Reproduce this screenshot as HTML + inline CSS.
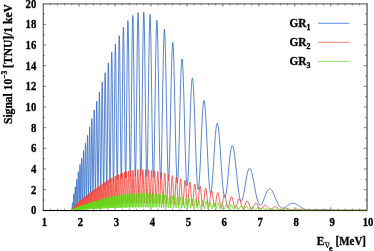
<!DOCTYPE html>
<html><head><meta charset="utf-8"><title>plot</title>
<style>html,body{margin:0;padding:0;background:#fff;}body{width:374px;height:251px;overflow:hidden;}svg{display:block;}text{font-family:"Liberation Serif",serif;font-weight:bold;fill:#000;stroke:#000;stroke-width:0.3px;}</style>
</head><body>
<svg width="374" height="251" viewBox="0 0 374 251">
<rect width="374" height="251" fill="#fff"/>
<path d="M42.800000000000004 210.55H367.0" stroke="#000" stroke-width="1.0" fill="none"/>
<path d="M50.29 210.30v-1.60M50.29 3.70v1.60M57.48 210.30v-1.60M57.48 3.70v1.60M64.67 210.30v-1.60M64.67 3.70v1.60M71.86 210.30v-1.60M71.86 3.70v1.60M79.06 210.30v-3.00M79.06 3.70v3.00M86.25 210.30v-1.60M86.25 3.70v1.60M93.44 210.30v-1.60M93.44 3.70v1.60M100.63 210.30v-1.60M100.63 3.70v1.60M107.82 210.30v-1.60M107.82 3.70v1.60M115.01 210.30v-3.00M115.01 3.70v3.00M122.20 210.30v-1.60M122.20 3.70v1.60M129.39 210.30v-1.60M129.39 3.70v1.60M136.58 210.30v-1.60M136.58 3.70v1.60M143.78 210.30v-1.60M143.78 3.70v1.60M150.97 210.30v-3.00M150.97 3.70v3.00M158.16 210.30v-1.60M158.16 3.70v1.60M165.35 210.30v-1.60M165.35 3.70v1.60M172.54 210.30v-1.60M172.54 3.70v1.60M179.73 210.30v-1.60M179.73 3.70v1.60M186.92 210.30v-3.00M186.92 3.70v3.00M194.11 210.30v-1.60M194.11 3.70v1.60M201.30 210.30v-1.60M201.30 3.70v1.60M208.50 210.30v-1.60M208.50 3.70v1.60M215.69 210.30v-1.60M215.69 3.70v1.60M222.88 210.30v-3.00M222.88 3.70v3.00M230.07 210.30v-1.60M230.07 3.70v1.60M237.26 210.30v-1.60M237.26 3.70v1.60M244.45 210.30v-1.60M244.45 3.70v1.60M251.64 210.30v-1.60M251.64 3.70v1.60M258.83 210.30v-3.00M258.83 3.70v3.00M266.02 210.30v-1.60M266.02 3.70v1.60M273.22 210.30v-1.60M273.22 3.70v1.60M280.41 210.30v-1.60M280.41 3.70v1.60M287.60 210.30v-1.60M287.60 3.70v1.60M294.79 210.30v-3.00M294.79 3.70v3.00M301.98 210.30v-1.60M301.98 3.70v1.60M309.17 210.30v-1.60M309.17 3.70v1.60M316.36 210.30v-1.60M316.36 3.70v1.60M323.55 210.30v-1.60M323.55 3.70v1.60M330.74 210.30v-3.00M330.74 3.70v3.00M337.94 210.30v-1.60M337.94 3.70v1.60M345.13 210.30v-1.60M345.13 3.70v1.60M352.32 210.30v-1.60M352.32 3.70v1.60M359.51 210.30v-1.60M359.51 3.70v1.60M43.10 199.97h1.60M366.70 199.97h-1.60M43.10 189.64h3.00M366.70 189.64h-3.00M43.10 179.31h1.60M366.70 179.31h-1.60M43.10 168.98h3.00M366.70 168.98h-3.00M43.10 158.65h1.60M366.70 158.65h-1.60M43.10 148.32h3.00M366.70 148.32h-3.00M43.10 137.99h1.60M366.70 137.99h-1.60M43.10 127.66h3.00M366.70 127.66h-3.00M43.10 117.33h1.60M366.70 117.33h-1.60M43.10 107.00h3.00M366.70 107.00h-3.00M43.10 96.67h1.60M366.70 96.67h-1.60M43.10 86.34h3.00M366.70 86.34h-3.00M43.10 76.01h1.60M366.70 76.01h-1.60M43.10 65.68h3.00M366.70 65.68h-3.00M43.10 55.35h1.60M366.70 55.35h-1.60M43.10 45.02h3.00M366.70 45.02h-3.00M43.10 34.69h1.60M366.70 34.69h-1.60M43.10 24.36h3.00M366.70 24.36h-3.00M43.10 14.03h1.60M366.70 14.03h-1.60" stroke="#000" stroke-width="0.5" fill="none"/>
<path d="M72.08 210.30L72.08 208.28L72.17 206.64L72.25 205.10L72.34 203.83L72.42 203.02L72.51 202.78L72.59 203.15L72.68 204.04L72.77 205.27L72.85 206.56L72.94 207.63L73.03 208.20L73.11 208.06L73.20 207.11L73.29 205.38L73.38 203.07L73.46 200.44L73.55 197.87L73.64 195.73L73.73 194.35L73.82 193.96L73.91 194.63L74.00 196.27L74.09 198.63L74.18 201.31L74.27 203.87L74.36 205.84L74.45 206.84L74.54 206.63L74.63 205.13L74.73 202.48L74.82 199.03L74.91 195.23L75.00 191.63L75.09 188.78L75.19 187.09L75.28 186.85L75.37 188.10L75.47 190.66L75.56 194.15L75.66 198.00L75.75 201.58L75.85 204.29L75.94 205.61L76.04 205.24L76.13 203.15L76.23 199.55L76.32 194.91L76.42 189.88L76.52 185.17L76.61 181.51L76.71 179.45L76.81 179.32L76.90 181.15L77.00 184.69L77.10 189.39L77.20 194.49L77.30 199.17L77.40 202.64L77.50 204.27L77.60 203.71L77.70 200.96L77.80 196.32L77.90 190.45L78.00 184.18L78.10 178.43L78.20 174.07L78.30 171.77L78.40 171.90L78.50 174.45L78.61 179.04L78.71 184.97L78.81 191.29L78.92 197.00L79.02 201.16L79.12 203.03L79.23 202.25L79.33 198.82L79.44 193.19L79.54 186.13L79.65 178.68L79.75 171.93L79.86 166.92L79.97 164.45L80.07 164.92L80.18 168.24L80.29 173.92L80.40 181.07L80.50 188.56L80.61 195.20L80.72 199.94L80.83 201.99L80.94 200.97L81.05 196.95L81.16 190.47L81.27 182.43L81.38 174.02L81.49 166.49L81.60 160.97L81.71 158.33L81.82 158.97L81.94 162.82L82.05 169.30L82.16 177.40L82.28 185.86L82.39 193.34L82.50 198.60L82.62 200.77L82.73 199.39L82.85 194.58L82.96 186.98L83.08 177.68L83.19 168.03L83.31 159.50L83.43 153.37L83.54 150.59L83.66 151.60L83.78 156.26L83.90 163.87L84.02 173.25L84.13 182.93L84.25 191.38L84.37 197.23L84.49 199.51L84.61 197.76L84.73 192.16L84.86 183.48L84.98 172.97L85.10 162.19L85.22 152.74L85.34 146.08L85.47 143.23L85.59 144.63L85.71 150.10L85.84 158.79L85.96 169.38L86.09 180.20L86.21 189.55L86.34 195.92L86.47 198.25L86.59 196.08L86.72 189.63L86.85 179.81L86.98 168.03L87.10 156.03L87.23 145.63L87.36 138.40L87.49 135.45L87.62 137.26L87.75 143.57L87.88 153.41L88.01 165.27L88.14 177.30L88.28 187.60L88.41 194.51L88.54 196.86L88.68 194.18L88.81 186.77L88.94 175.66L89.08 162.47L89.21 149.16L89.35 137.74L89.48 129.94L89.62 126.96L89.76 129.29L89.90 136.58L90.03 147.72L90.17 160.99L90.31 174.33L90.45 185.62L90.59 193.06L90.73 195.40L90.87 192.17L91.01 183.75L91.15 171.33L91.29 156.73L91.44 142.13L91.58 129.73L91.72 121.42L91.87 118.48L92.01 121.39L92.16 129.71L92.30 142.17L92.45 156.86L92.60 171.48L92.74 183.73L92.89 191.65L93.04 193.92L93.19 190.08L93.34 180.61L93.48 166.84L93.63 150.82L93.79 134.93L93.94 121.57L94.09 112.79L94.24 109.94L94.39 113.47L94.55 122.86L94.70 136.67L94.85 152.79L95.01 168.69L95.16 181.88L95.32 190.24L95.48 192.39L95.63 187.87L95.79 177.27L95.95 162.10L96.11 144.60L96.27 127.39L96.43 113.08L96.59 103.85L96.75 101.12L96.91 105.34L97.07 115.88L97.24 131.12L97.40 148.71L97.56 165.92L97.73 180.05L97.89 188.82L98.06 190.80L98.22 185.56L98.39 173.78L98.56 157.17L98.73 138.18L98.90 119.66L99.07 104.42L99.24 94.78L99.41 92.22L99.58 97.16L99.75 108.86L99.92 125.52L100.10 144.59L100.27 163.11L100.44 178.15L100.62 187.30L100.80 189.04L100.97 182.94L101.15 169.81L101.33 151.53L101.51 130.80L101.69 110.74L101.87 94.38L102.05 84.24L102.23 81.90L102.41 87.72L102.59 100.83L102.78 119.21L102.96 140.04L103.14 160.06L103.33 176.14L103.52 185.71L103.70 187.19L103.89 180.23L104.08 165.77L104.27 145.93L104.46 123.66L104.65 102.32L104.84 85.14L105.03 74.75L105.23 72.74L105.42 79.46L105.61 93.88L105.81 113.81L106.00 136.17L106.20 157.49L106.40 174.42L106.60 184.26L106.80 185.38L107.00 177.47L107.20 161.62L107.40 140.14L107.60 116.22L107.80 93.47L108.01 75.35L108.21 64.62L108.42 62.95L108.63 70.60L108.83 86.41L109.04 107.97L109.25 131.96L109.46 154.65L109.67 172.48L109.88 182.60L110.09 183.30L110.31 174.31L110.52 156.85L110.74 133.49L110.95 107.71L111.17 83.41L111.39 64.31L111.61 53.34L111.83 52.18L112.05 61.03L112.27 78.53L112.49 102.02L112.72 127.85L112.94 152.03L113.17 170.78L113.39 181.14L113.62 181.41L113.85 171.44L114.08 152.66L114.31 127.86L114.54 100.77L114.77 75.48L115.00 55.85L115.24 44.88L115.47 44.26L115.71 54.11L115.95 72.93L116.18 97.84L116.42 125.01L116.66 150.22L116.91 169.54L117.15 179.92L117.39 179.64L117.64 168.63L117.88 148.47L118.13 122.14L118.38 93.60L118.63 67.18L118.88 46.90L119.13 35.88L119.38 35.81L119.64 46.72L119.89 66.96L120.15 93.41L120.40 122.00L120.66 148.32L120.92 168.24L121.18 178.61L121.44 177.74L121.71 165.64L121.97 144.05L122.24 116.19L122.50 86.26L122.77 58.81L123.04 38.03L123.31 27.13L123.58 27.77L123.86 39.88L124.13 61.60L124.41 89.60L124.68 119.56L124.96 146.87L125.24 167.26L125.52 177.55L125.80 176.07L126.09 162.97L126.37 140.19L126.66 111.14L126.95 80.24L127.24 52.19L127.53 31.27L127.82 20.70L128.11 22.09L128.41 35.26L128.70 58.18L129.00 87.35L129.30 118.27L129.60 146.19L129.90 166.77L130.21 176.79L130.51 174.66L130.82 160.63L131.13 136.79L131.43 106.75L131.75 75.06L132.06 46.58L132.37 25.65L132.69 15.49L133.01 17.67L133.33 31.85L133.65 55.87L133.97 86.05L134.29 117.73L134.62 146.05L134.95 166.64L135.27 176.30L135.61 173.52L135.94 158.70L136.27 134.06L136.61 103.37L136.95 71.32L137.29 42.81L137.63 22.21L137.97 12.67L138.31 15.66L138.66 30.73L139.01 55.57L139.36 86.37L139.71 118.40L140.07 146.75L140.42 167.06L140.78 176.21L141.14 172.80L141.50 157.34L141.86 132.21L142.23 101.25L142.60 69.22L142.97 41.03L143.34 21.00L143.71 12.21L144.09 16.00L144.47 31.78L144.85 57.14L145.23 88.19L145.61 120.17L146.00 148.19L146.39 167.97L146.78 176.51L147.17 172.51L147.57 156.62L147.96 131.32L148.36 100.52L148.77 68.95L149.17 41.48L149.58 22.33L149.98 14.44L150.40 19.01L150.81 35.32L151.23 60.88L151.64 91.76L152.06 123.24L152.49 150.54L152.91 169.50L153.34 177.30L153.77 172.81L154.21 156.81L154.64 131.81L155.08 101.74L155.52 71.24L155.96 45.02L156.41 27.12L156.86 20.28L157.31 25.53L157.77 42.05L158.22 67.29L158.68 97.40L159.15 127.79L159.61 153.86L160.08 171.68L160.55 178.64L161.03 173.77L161.50 157.94L161.98 133.69L162.47 104.84L162.95 75.90L163.44 51.33L163.94 34.93L164.43 29.21L164.93 35.03L165.43 51.47L165.94 75.99L166.44 104.84L166.96 133.65L167.47 158.08L167.99 174.50L168.51 180.55L169.04 175.47L169.56 160.23L170.10 137.33L170.63 110.41L171.17 83.71L171.71 61.39L172.26 46.88L172.81 42.40L173.36 48.61L173.92 64.52L174.48 87.68L175.04 114.56L175.61 141.10L176.18 163.33L176.76 178.02L177.34 183.09L177.92 178.00L178.51 163.75L179.10 142.71L179.70 118.30L180.00 106.01L180.30 94.37L180.60 83.75L180.91 74.66L181.21 67.37L181.51 62.22L181.82 59.37L182.13 58.94L182.44 60.95L182.74 65.29L183.06 71.82L183.37 80.25L183.68 90.30L183.99 101.51L184.31 113.54L184.62 125.84L184.94 138.04L185.26 149.60L185.58 160.15L185.90 169.26L186.22 176.65L186.54 182.01L186.87 185.20L187.19 186.12L187.52 184.76L187.85 181.21L188.17 175.63L188.50 168.29L188.84 159.46L189.17 149.58L189.50 138.96L189.84 128.13L190.17 117.43L190.51 107.38L190.85 98.29L191.19 90.59L191.53 84.52L191.87 80.35L192.21 78.23L192.56 78.24L192.90 80.36L193.25 84.51L193.60 90.54L193.95 98.17L194.30 107.17L194.65 117.11L195.01 127.69L195.36 138.44L195.72 149.04L196.08 159.00L196.44 168.05L196.80 175.79L197.16 182.01L197.52 186.46L197.89 189.03L198.25 189.65L198.62 188.33L198.99 185.17L199.36 180.31L199.73 174.01L200.11 166.50L200.48 158.15L200.86 149.26L201.24 140.24L201.62 131.41L202.00 123.18L202.38 115.82L202.76 109.67L203.15 104.92L203.53 101.79L203.92 100.38L204.31 100.73L204.70 102.85L205.10 106.61L205.49 111.90L205.89 118.47L206.28 126.12L206.68 134.49L207.08 143.33L207.49 152.24L207.89 160.97L208.30 169.13L208.70 176.49L209.11 182.73L209.52 187.70L209.93 191.20L210.35 193.16L210.76 193.52L211.18 192.32L211.60 189.65L212.02 185.63L212.44 180.48L212.87 174.40L213.29 167.69L213.72 160.59L214.15 153.46L214.58 146.51L215.02 140.11L215.45 134.43L215.89 129.77L216.33 126.25L216.77 124.05L217.21 123.22L217.65 123.79L218.10 125.74L218.55 128.97L219.00 133.38L219.45 138.76L219.91 144.95L220.36 151.65L220.82 158.68L221.28 165.71L221.74 172.55L222.20 178.90L222.67 184.59L223.14 189.37L223.61 193.15L224.08 195.76L224.55 197.17L225.03 197.35L225.51 196.34L225.99 194.21L226.47 191.07L226.95 187.10L227.44 182.46L227.93 177.38L228.42 172.05L228.91 166.75L229.41 161.64L229.90 156.99L230.40 152.93L230.91 149.68L231.41 147.31L231.92 145.95L232.43 145.64L232.94 146.37L233.45 148.12L233.96 150.79L234.48 154.31L235.00 158.49L235.53 163.22L236.05 168.28L236.58 173.52L237.11 178.71L237.64 183.71L238.18 188.31L238.72 192.38L239.25 195.77L239.80 198.42L240.34 200.22L240.89 201.16L241.44 201.24L241.99 200.49L242.55 198.99L243.11 196.82L243.67 194.11L244.23 190.98L244.80 187.61L245.37 184.11L245.94 180.69L246.51 177.44L247.09 174.55L247.67 172.09L248.25 170.20L248.84 168.93L249.42 168.34L250.02 168.43L250.61 169.20L251.21 170.62L251.81 172.62L252.21 174.24L252.61 176.04L253.01 178.01L253.42 180.11L253.83 182.31L254.24 184.55L254.65 186.83L255.06 189.08L255.47 191.28L255.88 193.42L256.30 195.43L256.71 197.29L257.13 199.01L257.55 200.53L257.97 201.85L258.39 202.95L258.82 203.83L259.24 204.48L259.67 204.90L260.10 205.09L260.53 205.06L260.96 204.82L261.39 204.39L261.82 203.79L262.26 203.02L262.70 202.12L263.13 201.12L263.57 200.02L264.01 198.87L264.46 197.68L264.90 196.49L265.35 195.31L265.79 194.18L266.24 193.11L266.69 192.12L267.14 191.25L267.60 190.49L268.05 189.86L268.51 189.38L268.97 189.05L269.43 188.87L269.89 188.86L270.35 189.00L270.82 189.29L271.28 189.73L271.75 190.32L272.22 191.03L272.69 191.86L273.17 192.79L273.64 193.80L274.12 194.87L274.60 196.00L275.08 197.15L275.56 198.31L276.04 199.47L276.53 200.60L277.01 201.68L277.50 202.72L277.99 203.69L278.48 204.57L278.98 205.38L279.48 206.08L279.97 206.68L280.47 207.18L280.97 207.57L281.48 207.85L281.98 208.04L282.49 208.13L283.00 208.12L283.51 208.04L284.02 207.87L284.53 207.65L285.05 207.36L285.57 207.03L286.09 206.67L286.61 206.28L287.14 205.89L287.66 205.49L288.19 205.10L288.72 204.73L289.25 204.39L289.79 204.08L290.32 203.81L290.86 203.59L291.40 203.42L291.94 203.30L292.49 203.23L293.03 203.22L293.58 203.26L294.13 203.36L294.69 203.51L295.24 203.71L295.80 203.95L296.36 204.24L296.92 204.56L297.48 204.91L298.05 205.28L298.62 205.66L299.18 206.05L299.76 206.44L300.33 206.83L300.91 207.21L301.49 207.57L302.07 207.91L302.65 208.23L303.24 208.53L303.83 208.79L304.42 209.03L305.01 209.24L305.61 209.41L306.20 209.56L306.66 209.65L307.11 209.73L307.56 209.79L308.01 209.84L308.47 209.87L308.93 209.90L309.38 209.91L309.84 209.92L310.30 209.91L310.77 209.90L311.23 209.89L311.69 209.87L312.16 209.84L312.63 209.82L313.10 209.79L313.57 209.76L314.04 209.73L314.52 209.70L314.99 209.67L315.47 209.65L315.95 209.62L316.43 209.60L316.91 209.58L317.39 209.56L317.88 209.55L318.36 209.53L318.85 209.52L319.33 209.52L319.83 209.51L320.32 209.51L320.81 209.51L321.31 209.51L321.80 209.52L322.30 209.53L322.80 209.55L323.30 209.56L323.81 209.58L324.31 209.60L324.82 209.63L325.32 209.65L325.83 209.68L326.35 209.71L326.86 209.74L327.37 209.77L327.89 209.80L328.41 209.83L328.93 209.86L329.44 209.90L329.97 209.93L330.49 209.96L331.02 209.98L331.54 210.01L332.08 210.04L332.61 210.06L333.14 210.09L333.67 210.11L334.21 210.13L334.75 210.15L335.29 210.17L335.83 210.18L336.38 210.20L336.92 210.21L337.47 210.22L338.01 210.23L338.57 210.24L339.12 210.25L339.68 210.25L340.23 210.26L340.79 210.26L341.35 210.26L341.91 210.26L342.47 210.26L343.04 210.26L343.61 210.26L344.18 210.26L344.75 210.26L345.32 210.25L345.90 210.25L346.48 210.24L347.05 210.24L347.64 210.24L348.22 210.23L348.81 210.23L349.39 210.22L349.98 210.22L350.58 210.22L351.17 210.21L351.76 210.21L352.24 210.21L352.72 210.21L353.20 210.20L353.68 210.20L354.16 210.20L354.65 210.20L355.14 210.20L355.63 210.20L356.11 210.20L356.60 210.20L357.10 210.20L357.59 210.20L358.08 210.20L358.58 210.20L359.07 210.20L359.57 210.21L360.07 210.21L360.58 210.21L361.08 210.21L361.58 210.21L362.09 210.22L362.60 210.22L363.10 210.22L363.61 210.23L364.12 210.23L364.64 210.23L365.15 210.24L365.67 210.24L366.18 210.24L366.70 210.24" fill="none" stroke="#2c68c3" stroke-width="0.8" stroke-linejoin="round"/>
<path d="M72.08 210.30L72.08 209.95L72.12 209.74L72.16 209.53L72.20 209.33L72.23 209.19L72.27 209.13L72.31 209.15L72.35 209.25L72.39 209.42L72.43 209.62L72.47 209.81L72.50 209.95L72.54 210.00L72.58 209.95L72.62 209.78L72.66 209.51L72.70 209.18L72.74 208.81L72.78 208.48L72.82 208.22L72.86 208.08L72.90 208.08L72.94 208.22L72.97 208.49L73.01 208.83L73.05 209.20L73.09 209.53L73.13 209.76L73.17 209.85L73.21 209.77L73.25 209.53L73.29 209.16L73.33 208.69L73.37 208.20L73.41 207.76L73.45 207.43L73.49 207.27L73.53 207.30L73.57 207.52L73.61 207.90L73.65 208.37L73.69 208.86L73.73 209.30L73.77 209.60L73.81 209.72L73.85 209.63L73.89 209.32L73.93 208.85L73.98 208.26L74.02 207.66L74.06 207.12L74.10 206.74L74.14 206.56L74.18 206.61L74.22 206.90L74.26 207.37L74.30 207.96L74.34 208.56L74.38 209.10L74.43 209.46L74.47 209.60L74.51 209.49L74.55 209.12L74.59 208.55L74.63 207.87L74.67 207.15L74.71 206.53L74.76 206.08L74.80 205.88L74.84 205.96L74.88 206.31L74.92 206.88L74.96 207.57L75.01 208.28L75.05 208.90L75.09 209.33L75.13 209.49L75.17 209.35L75.22 208.93L75.26 208.27L75.30 207.47L75.34 206.66L75.39 205.94L75.43 205.44L75.47 205.22L75.51 205.32L75.56 205.73L75.60 206.38L75.64 207.18L75.68 208.00L75.73 208.71L75.77 209.20L75.81 209.38L75.86 209.21L75.90 208.72L75.94 207.97L75.98 207.06L76.03 206.13L76.07 205.32L76.11 204.75L76.16 204.51L76.20 204.63L76.24 205.11L76.29 205.86L76.33 206.77L76.37 207.70L76.42 208.51L76.46 209.05L76.51 209.25L76.55 209.06L76.59 208.50L76.64 207.65L76.68 206.62L76.73 205.57L76.77 204.67L76.81 204.03L76.86 203.77L76.90 203.92L76.95 204.46L76.99 205.32L77.03 206.35L77.08 207.40L77.12 208.30L77.17 208.91L77.21 209.13L77.26 208.91L77.30 208.27L77.35 207.32L77.39 206.17L77.44 205.01L77.48 204.01L77.53 203.31L77.57 203.03L77.62 203.22L77.66 203.83L77.71 204.79L77.75 205.94L77.80 207.10L77.84 208.10L77.89 208.77L77.94 209.01L77.98 208.76L78.03 208.06L78.07 207.00L78.12 205.75L78.16 204.48L78.21 203.39L78.26 202.64L78.30 202.35L78.35 202.56L78.39 203.25L78.44 204.30L78.49 205.56L78.53 206.83L78.58 207.92L78.63 208.64L78.67 208.89L78.72 208.61L78.77 207.84L78.81 206.69L78.86 205.33L78.91 203.95L78.95 202.77L79.00 201.97L79.05 201.66L79.09 201.91L79.14 202.66L79.19 203.81L79.24 205.18L79.28 206.56L79.33 207.73L79.38 208.51L79.42 208.77L79.47 208.46L79.52 207.63L79.57 206.38L79.62 204.90L79.66 203.42L79.71 202.15L79.76 201.29L79.81 200.98L79.86 201.25L79.90 202.08L79.95 203.33L80.00 204.82L80.05 206.30L80.10 207.56L80.14 208.39L80.19 208.67L80.24 208.33L80.29 207.43L80.34 206.10L80.39 204.53L80.44 202.97L80.49 201.65L80.53 200.76L80.58 200.45L80.63 200.77L80.68 201.66L80.73 202.99L80.78 204.56L80.83 206.12L80.88 207.44L80.93 208.31L80.98 208.58L81.03 208.22L81.08 207.27L81.13 205.86L81.18 204.20L81.23 202.55L81.28 201.15L81.33 200.21L81.38 199.88L81.43 200.21L81.48 201.15L81.53 202.56L81.58 204.22L81.63 205.88L81.68 207.27L81.73 208.18L81.78 208.47L81.83 208.07L81.88 207.04L81.93 205.53L81.98 203.76L82.03 201.99L82.09 200.50L82.14 199.51L82.19 199.17L82.24 199.54L82.29 200.55L82.34 202.07L82.39 203.84L82.45 205.61L82.50 207.09L82.55 208.05L82.60 208.34L82.65 207.91L82.70 206.80L82.76 205.18L82.81 203.29L82.86 201.42L82.91 199.84L82.96 198.80L83.02 198.45L83.07 198.85L83.12 199.94L83.17 201.56L83.23 203.46L83.28 205.33L83.33 206.91L83.39 207.92L83.44 208.22L83.49 207.74L83.54 206.56L83.60 204.84L83.65 202.83L83.70 200.85L83.76 199.19L83.81 198.10L83.86 197.75L83.92 198.19L83.97 199.36L84.03 201.08L84.08 203.09L84.13 205.08L84.19 206.73L84.24 207.80L84.30 208.10L84.35 207.59L84.40 206.33L84.46 204.51L84.51 202.39L84.57 200.31L84.62 198.56L84.68 197.43L84.73 197.07L84.79 197.55L84.84 198.80L84.90 200.62L84.95 202.74L85.01 204.83L85.06 206.57L85.12 207.68L85.17 207.98L85.23 207.43L85.28 206.09L85.34 204.17L85.39 201.94L85.45 199.75L85.51 197.92L85.56 196.74L85.62 196.38L85.67 196.90L85.73 198.23L85.79 200.15L85.84 202.39L85.90 204.58L85.95 206.40L86.01 207.55L86.07 207.86L86.12 207.27L86.18 205.85L86.24 203.82L86.30 201.48L86.35 199.18L86.41 197.27L86.47 196.04L86.52 195.68L86.58 196.24L86.64 197.65L86.70 199.68L86.75 202.02L86.81 204.33L86.87 206.23L86.93 207.43L86.99 207.74L87.04 207.10L87.10 205.60L87.16 203.46L87.22 201.00L87.28 198.58L87.33 196.58L87.39 195.30L87.45 194.94L87.51 195.54L87.57 197.03L87.63 199.17L87.69 201.64L87.75 204.05L87.81 206.04L87.86 207.29L87.92 207.60L87.98 206.92L88.04 205.33L88.10 203.07L88.16 200.48L88.22 197.95L88.28 195.85L88.34 194.52L88.40 194.15L88.46 194.81L88.52 196.38L88.58 198.64L88.64 201.24L88.70 203.77L88.76 205.85L88.82 207.15L88.89 207.46L88.95 206.73L89.01 205.05L89.07 202.67L89.13 199.95L89.19 197.29L89.25 195.11L89.31 193.73L89.37 193.36L89.44 194.06L89.50 195.73L89.56 198.11L89.62 200.84L89.68 203.50L89.75 205.67L89.81 207.02L89.87 207.32L89.93 206.54L89.99 204.76L90.06 202.26L90.12 199.41L90.18 196.64L90.24 194.37L90.31 192.94L90.37 192.57L90.43 193.33L90.50 195.09L90.56 197.59L90.62 200.45L90.69 203.22L90.75 205.48L90.81 206.88L90.88 207.18L90.94 206.34L91.01 204.48L91.07 201.86L91.13 198.88L91.20 195.99L91.26 193.62L91.33 192.15L91.39 191.79L91.46 192.60L91.52 194.45L91.59 197.07L91.65 200.06L91.72 202.95L91.78 205.30L91.85 206.74L91.91 207.04L91.98 206.15L92.04 204.19L92.11 201.44L92.17 198.33L92.24 195.33L92.30 192.87L92.37 191.35L92.44 191.00L92.50 191.86L92.57 193.81L92.64 196.56L92.70 199.68L92.77 202.69L92.84 205.12L92.90 206.61L92.97 206.90L93.04 205.95L93.10 203.89L93.17 201.03L93.24 197.79L93.31 194.66L93.37 192.12L93.44 190.56L93.51 190.21L93.58 191.13L93.65 193.18L93.71 196.04L93.78 199.29L93.85 202.42L93.92 204.94L93.99 206.47L94.06 206.76L94.12 205.75L94.19 203.59L94.26 200.60L94.33 197.23L94.40 193.98L94.47 191.35L94.54 189.75L94.61 189.40L94.68 190.38L94.75 192.53L94.82 195.52L94.89 198.90L94.96 202.15L95.03 204.76L95.10 206.33L95.17 206.61L95.24 205.54L95.31 203.28L95.38 200.17L95.45 196.66L95.52 193.29L95.59 190.57L95.67 188.92L95.74 188.58L95.81 189.62L95.88 191.87L95.95 194.99L96.02 198.51L96.10 201.88L96.17 204.58L96.24 206.19L96.31 206.46L96.38 205.33L96.46 202.97L96.53 199.72L96.60 196.08L96.68 192.58L96.75 189.78L96.82 188.08L96.89 187.76L96.97 188.86L97.04 191.22L97.11 194.47L97.19 198.12L97.26 201.61L97.34 204.40L97.41 206.05L97.48 206.31L97.56 205.12L97.63 202.65L97.71 199.27L97.78 195.49L97.86 191.88L97.93 188.99L98.01 187.25L98.08 186.94L98.16 188.11L98.23 190.57L98.31 193.95L98.38 197.74L98.46 201.35L98.54 204.22L98.61 205.92L98.69 206.16L98.76 204.90L98.84 202.33L98.92 198.82L98.99 194.90L99.07 191.17L99.15 188.18L99.23 186.41L99.30 186.11L99.38 187.33L99.46 189.90L99.53 193.41L99.61 197.34L99.69 201.07L99.77 204.04L99.85 205.77L99.92 206.00L100.00 204.67L100.08 201.98L100.16 198.32L100.24 194.25L100.32 190.38L100.40 187.29L100.48 185.46L100.56 185.17L100.63 186.47L100.71 189.15L100.79 192.81L100.87 196.89L100.95 200.76L101.03 203.82L101.11 205.60L101.19 205.82L101.28 204.41L101.36 201.59L101.44 197.78L101.52 193.54L101.60 189.52L101.68 186.33L101.76 184.46L101.84 184.18L101.92 185.55L102.01 188.37L102.09 192.19L102.17 196.43L102.25 200.45L102.34 203.62L102.42 205.44L102.50 205.64L102.58 204.16L102.67 201.22L102.75 197.26L102.83 192.87L102.92 188.73L103.00 185.45L103.08 183.54L103.17 183.29L103.25 184.75L103.33 187.68L103.42 191.65L103.50 196.04L103.59 200.18L103.67 203.44L103.76 205.30L103.84 205.48L103.93 203.92L104.01 200.87L104.10 196.77L104.18 192.25L104.27 187.98L104.36 184.62L104.44 182.68L104.53 182.45L104.61 183.98L104.70 187.03L104.79 191.13L104.87 195.66L104.96 199.93L105.05 203.27L105.14 205.16L105.22 205.31L105.31 203.69L105.40 200.52L105.49 196.28L105.57 191.61L105.66 187.22L105.75 183.77L105.84 181.79L105.93 181.58L106.02 183.18L106.11 186.34L106.20 190.59L106.28 195.26L106.37 199.65L106.46 203.08L106.55 205.01L106.64 205.14L106.73 203.43L106.82 200.14L106.91 195.75L107.01 190.93L107.10 186.41L107.19 182.87L107.28 180.85L107.37 180.66L107.46 182.34L107.55 185.63L107.64 190.02L107.74 194.85L107.83 199.38L107.92 202.89L108.01 204.86L108.11 204.96L108.20 203.17L108.29 199.75L108.38 195.21L108.48 190.24L108.57 185.58L108.67 181.94L108.76 179.89L108.85 179.72L108.95 181.48L109.04 184.89L109.14 189.44L109.23 194.42L109.33 199.08L109.42 202.69L109.52 204.69L109.61 204.77L109.71 202.89L109.80 199.32L109.90 194.61L110.00 189.45L110.09 184.63L110.19 180.89L110.28 178.78L110.38 178.64L110.48 180.49L110.58 184.04L110.67 188.77L110.77 193.93L110.87 198.75L110.97 202.47L111.06 204.51L111.16 204.56L111.26 202.59L111.36 198.89L111.46 194.01L111.56 188.70L111.66 183.75L111.76 179.93L111.86 177.81L111.96 177.71L112.06 179.66L112.16 183.36L112.26 188.24L112.36 193.57L112.46 198.51L112.56 202.31L112.66 204.38L112.76 204.40L112.86 202.35L112.97 198.54L113.07 193.53L113.17 188.09L113.27 183.04L113.37 179.15L113.48 177.02L113.58 176.96L113.68 178.99L113.79 182.81L113.89 187.82L113.99 193.26L114.10 198.31L114.20 202.17L114.31 204.26L114.41 204.25L114.52 202.13L114.62 198.20L114.73 193.07L114.83 187.51L114.94 182.36L115.04 178.41L115.15 176.26L115.26 176.23L115.36 178.34L115.47 182.26L115.58 187.40L115.68 192.96L115.79 198.11L115.90 202.04L116.01 204.14L116.11 204.09L116.22 201.89L116.33 197.85L116.44 192.59L116.55 186.89L116.66 181.64L116.77 177.61L116.87 175.44L116.98 175.44L117.09 177.63L117.20 181.67L117.31 186.94L117.42 192.64L117.54 197.89L117.65 201.89L117.76 204.01L117.87 203.93L117.98 201.64L118.09 197.48L118.20 192.08L118.32 186.25L118.43 180.88L118.54 176.79L118.66 174.60L118.77 174.64L118.88 176.91L119.00 181.07L119.11 186.48L119.22 192.31L119.34 197.68L119.45 201.74L119.57 203.88L119.68 203.76L119.80 201.39L119.91 197.11L120.03 191.57L120.15 185.61L120.26 180.14L120.38 175.98L120.50 173.77L120.61 173.85L120.73 176.21L120.85 180.49L120.97 186.03L121.08 192.00L121.20 197.46L121.32 201.60L121.44 203.75L121.56 203.59L121.68 201.13L121.80 196.73L121.92 191.06L122.04 184.97L122.16 179.38L122.28 175.16L122.40 172.94L122.52 173.06L122.64 175.51L122.76 179.92L122.88 185.60L123.00 191.70L123.13 197.27L123.25 201.47L123.37 203.63L123.50 203.44L123.62 200.89L123.74 196.38L123.87 190.59L123.99 184.39L124.11 178.73L124.24 174.46L124.36 172.25L124.49 172.42L124.61 174.96L124.74 179.47L124.87 185.27L124.99 191.48L125.12 197.13L125.25 201.37L125.37 203.54L125.50 203.30L125.63 200.69L125.76 196.08L125.88 190.19L126.01 183.89L126.14 178.16L126.27 173.86L126.40 171.65L126.53 171.87L126.66 174.49L126.79 179.10L126.92 185.00L127.05 191.30L127.18 197.02L127.31 201.29L127.44 203.46L127.57 203.18L127.71 200.49L127.84 195.80L127.97 189.81L128.10 183.43L128.24 177.64L128.37 173.32L128.51 171.12L128.64 171.38L128.77 174.06L128.91 178.76L129.04 184.76L129.18 191.14L129.31 196.93L129.45 201.23L129.59 203.39L129.72 203.07L129.86 200.31L130.00 195.53L130.13 189.45L130.27 183.00L130.41 177.15L130.55 172.80L130.69 170.61L130.83 170.92L130.97 173.68L131.11 178.46L131.25 184.55L131.39 191.01L131.53 196.85L131.67 201.17L131.81 203.32L131.95 202.96L132.09 200.13L132.23 195.28L132.38 189.12L132.52 182.60L132.66 176.71L132.81 172.35L132.95 170.18L133.09 170.54L133.24 173.37L133.38 178.24L133.53 184.40L133.67 190.92L133.82 196.80L133.97 201.14L134.11 203.27L134.26 202.87L134.41 199.99L134.55 195.06L134.70 188.85L134.85 182.28L135.00 176.37L135.15 172.01L135.30 169.88L135.45 170.28L135.60 173.17L135.75 178.11L135.90 184.33L136.05 190.89L136.20 196.80L136.35 201.13L136.50 203.24L136.66 202.80L136.81 199.87L136.96 194.89L137.12 188.63L137.27 182.04L137.42 176.12L137.58 171.77L137.73 169.67L137.89 170.12L138.04 173.07L138.20 178.05L138.36 184.32L138.51 190.91L138.67 196.82L138.83 201.15L138.99 203.23L139.14 202.75L139.30 199.77L139.46 194.75L139.62 188.46L139.78 181.86L139.94 175.94L140.10 171.62L140.26 169.55L140.43 170.05L140.59 173.05L140.75 178.08L140.91 184.37L141.07 190.98L141.24 196.88L141.40 201.19L141.57 203.23L141.73 202.71L141.90 199.70L142.06 194.65L142.23 188.35L142.39 181.75L142.56 175.85L142.73 171.57L142.89 169.54L143.06 170.09L143.23 173.12L143.40 178.18L143.57 184.49L143.74 191.09L143.91 196.98L144.08 201.25L144.25 203.25L144.42 202.69L144.59 199.65L144.76 194.59L144.94 188.29L145.11 181.71L145.28 175.85L145.46 171.61L145.63 169.64L145.81 170.23L145.98 173.30L146.16 178.37L146.33 184.68L146.51 191.26L146.69 197.11L146.86 201.33L147.04 203.29L147.22 202.70L147.40 199.63L147.58 194.57L147.76 188.29L147.94 181.75L148.12 175.95L148.30 171.77L148.48 169.85L148.66 170.49L148.84 173.58L149.03 178.66L149.21 184.94L149.39 191.48L149.58 197.27L149.76 201.44L149.95 203.36L150.13 202.72L150.32 199.65L150.51 194.61L150.69 188.38L150.88 181.90L151.07 176.17L151.26 172.07L151.45 170.22L151.64 170.90L151.83 174.01L152.02 179.07L152.21 185.31L152.40 191.78L152.59 197.49L152.79 201.59L152.98 203.44L153.17 202.78L153.37 199.72L153.56 194.72L153.76 188.55L153.95 182.17L154.15 176.54L154.35 172.53L154.54 170.75L154.74 171.47L154.94 174.58L155.14 179.60L155.34 185.77L155.54 192.14L155.74 197.76L155.94 201.77L156.14 203.56L156.35 202.87L156.55 199.82L156.75 194.88L156.96 188.81L157.16 182.54L157.37 177.03L157.57 173.12L157.78 171.42L157.98 172.17L158.19 175.26L158.40 180.22L158.61 186.30L158.82 192.56L159.03 198.06L159.24 201.97L159.45 203.69L159.66 202.98L159.87 199.96L160.08 195.09L160.30 189.12L160.51 182.98L160.72 177.61L160.94 173.82L161.15 172.19L161.37 172.97L161.59 176.04L161.80 180.93L162.02 186.90L162.24 193.03L162.46 198.40L162.68 202.19L162.90 203.84L163.12 203.12L163.34 200.13L163.56 195.35L163.79 189.52L164.01 183.54L164.24 178.32L164.46 174.66L164.69 173.12L164.91 173.93L165.14 176.97L165.37 181.77L165.59 187.60L165.82 193.57L166.05 198.79L166.28 202.45L166.51 204.03L166.74 203.29L166.98 200.36L167.21 195.70L167.44 190.04L167.68 184.25L167.91 179.21L168.15 175.70L168.38 174.26L168.62 175.09L168.86 178.08L169.10 182.76L169.33 188.42L169.57 194.20L169.82 199.23L170.06 202.75L170.30 204.25L170.54 203.50L170.78 200.64L171.03 196.13L171.27 190.66L171.52 185.09L171.76 180.26L172.01 176.91L172.26 175.56L172.51 176.41L172.76 179.33L173.01 183.86L173.26 189.33L173.51 194.89L173.76 199.72L174.01 203.08L174.27 204.49L174.52 203.74L174.78 200.97L175.03 196.62L175.29 191.37L175.55 186.03L175.81 181.42L176.06 178.25L176.32 177.00L176.59 177.86L176.85 180.69L177.11 185.06L177.37 190.31L177.64 195.64L177.90 200.24L178.17 203.43L178.43 204.75L178.70 204.00L178.97 201.33L179.24 197.17L179.51 192.15L179.78 187.07L180.05 182.70L180.32 179.72L180.60 178.57L180.87 179.43L181.15 182.17L181.42 186.36L181.70 191.36L181.98 196.43L182.25 200.80L182.53 203.81L182.81 205.03L183.10 204.30L183.38 201.74L183.66 197.77L183.94 193.02L184.23 188.21L184.51 184.10L184.80 181.31L185.09 180.26L185.38 181.11L185.67 183.74L185.96 187.73L186.25 192.47L186.54 197.27L186.83 201.38L187.13 204.20L187.42 205.33L187.72 204.61L188.02 202.18L188.32 198.43L188.61 193.95L188.91 189.43L189.22 185.58L189.52 182.99L189.82 182.05L190.13 182.89L190.43 185.39L190.74 189.17L191.04 193.64L191.35 198.14L191.66 201.99L191.97 204.62L192.28 205.65L192.59 204.96L192.91 202.66L193.22 199.15L193.54 194.96L193.85 190.77L194.17 187.21L194.49 184.83L194.81 183.99L195.13 184.82L195.45 187.19L195.78 190.73L196.10 194.90L196.43 199.08L196.75 202.64L197.08 205.06L197.41 206.00L197.74 205.33L198.07 203.20L198.40 199.94L198.74 196.09L199.07 192.23L199.41 188.97L199.74 186.82L200.08 186.09L200.42 186.89L200.76 189.10L201.10 192.38L201.45 196.22L201.79 200.06L202.14 203.32L202.48 205.53L202.83 206.36L203.18 205.74L203.53 203.77L203.88 200.78L204.23 197.26L204.59 193.75L204.94 190.80L205.30 188.86L205.66 188.23L206.02 189.00L206.38 191.04L206.74 194.04L207.10 197.55L207.47 201.05L207.83 204.00L208.20 205.99L208.57 206.73L208.94 206.14L209.31 204.34L209.68 201.63L210.05 198.45L210.43 195.28L210.81 192.64L211.18 190.91L211.56 190.38L211.94 191.10L212.33 192.97L212.71 195.70L213.10 198.87L213.48 202.02L213.87 204.67L214.26 206.44L214.65 207.09L215.04 206.55L215.44 204.93L215.83 202.49L216.23 199.64L216.63 196.83L217.03 194.48L217.43 192.97L217.83 192.52L218.24 193.20L218.64 194.89L219.05 197.34L219.46 200.18L219.87 202.98L220.28 205.33L220.70 206.89L221.11 207.46L221.53 206.96L221.95 205.51L222.37 203.35L222.79 200.83L223.22 198.35L223.64 196.29L224.07 194.98L224.50 194.61L224.93 195.23L225.36 196.74L225.80 198.92L226.23 201.43L226.67 203.90L227.11 205.96L227.55 207.33L227.99 207.81L228.44 207.36L228.88 206.09L229.33 204.20L229.78 202.01L230.23 199.87L230.69 198.11L231.14 197.00L231.60 196.71L232.06 197.29L232.52 198.63L232.98 200.54L233.45 202.71L233.92 204.84L234.39 206.61L234.86 207.77L235.33 208.18L235.80 207.79L236.28 206.70L236.76 205.10L237.24 203.25L237.72 201.46L238.21 199.99L238.69 199.09L239.18 198.88L239.67 199.39L240.17 200.54L240.66 202.16L241.16 203.99L241.66 205.77L242.16 207.25L242.66 208.21L243.17 208.54L243.68 208.21L244.19 207.31L244.70 205.99L245.21 204.48L245.73 203.02L246.25 201.84L246.77 201.13L247.29 200.99L247.82 201.44L248.35 202.40L248.88 203.74L249.41 205.23L249.95 206.68L250.48 207.87L251.02 208.64L251.57 208.90L252.11 208.63L252.66 207.92L253.21 206.88L253.76 205.71L254.31 204.58L254.87 203.69L255.43 203.17L255.99 203.09L256.56 203.47L257.12 204.24L257.69 205.29L258.27 206.45L258.84 207.56L259.42 208.47L260.00 209.05L260.58 209.24L261.17 209.05L261.76 208.51L262.35 207.74L262.94 206.88L263.54 206.06L264.14 205.42L264.44 205.20L264.74 205.06L265.04 205.00L265.35 205.03L265.65 205.14L265.95 205.33L266.26 205.59L266.56 205.91L266.87 206.28L267.18 206.69L267.49 207.11L267.79 207.54L268.10 207.95L268.41 208.34L268.73 208.70L269.04 209.00L269.35 209.24L269.66 209.41L269.98 209.52L270.29 209.55L270.61 209.51L270.92 209.41L271.24 209.24L271.56 209.03L271.88 208.78L272.19 208.50L272.51 208.20L272.84 207.90L273.16 207.61L273.48 207.34L273.80 207.11L274.13 206.92L274.45 206.78L274.78 206.69L275.10 206.66L275.43 206.69L275.76 206.78L276.09 206.92L276.42 207.11L276.75 207.34L277.08 207.60L277.41 207.88L277.74 208.17L278.07 208.47L278.41 208.75L278.74 209.01L279.08 209.25L279.42 209.45L279.75 209.61L280.09 209.72L280.43 209.79L280.77 209.81L281.11 209.79L281.46 209.73L281.80 209.62L282.14 209.49L282.49 209.33L282.83 209.16L283.18 208.97L283.52 208.79L283.87 208.62L284.22 208.46L284.57 208.33L284.92 208.22L285.27 208.14L285.63 208.10L285.98 208.09L286.33 208.12L286.69 208.18L287.04 208.28L287.40 208.40L287.76 208.55L288.12 208.71L288.48 208.88L288.84 209.06L289.20 209.23L289.56 209.40L289.92 209.56L290.29 209.70L290.65 209.81L291.02 209.91L291.39 209.97L291.75 210.01L292.12 210.03L292.49 210.01L292.86 209.98L293.24 209.92L293.61 209.85L293.98 209.76L294.36 209.67L294.73 209.57L295.11 209.47L295.49 209.38L295.87 209.30L296.25 209.24L296.63 209.19L297.01 209.15L297.39 209.14L297.77 209.14L298.16 209.17L298.55 209.21L298.93 209.27L299.32 209.34L299.71 209.42L300.10 209.51L300.49 209.60L300.88 209.69L301.27 209.79L301.67 209.87L302.06 209.95L302.46 210.02L302.86 210.08L303.26 210.12L303.65 210.15L304.06 210.17L304.46 210.18L304.86 210.17L305.26 210.16L305.67 210.14L306.07 210.11L306.48 210.07L306.89 210.04L307.30 210.00L307.71 209.97L308.12 209.94L308.53 209.91L308.95 209.89L309.36 209.88L309.78 209.87L310.19 209.87L310.61 209.88L311.03 209.90L311.45 209.92L311.87 209.94L312.30 209.97L312.72 210.00L313.15 210.03L313.57 210.07L314.00 210.10L314.43 210.13L314.86 210.16L315.29 210.19L315.73 210.21L316.16 210.23L316.59 210.24L317.03 210.25L317.47 210.26L317.91 210.26L318.35 210.26L318.79 210.26L319.23 210.25L319.67 210.24L320.12 210.23L320.56 210.22L321.01 210.21L321.46 210.19L321.91 210.18L322.36 210.17L322.81 210.17L323.27 210.16L323.72 210.16L324.18 210.16L324.64 210.16L325.10 210.16L325.56 210.17L326.02 210.18L326.48 210.19L326.95 210.20L327.41 210.21L327.88 210.22L328.35 210.23L328.82 210.24L329.29 210.25L329.76 210.26L330.24 210.27L330.71 210.27L331.19 210.28L331.67 210.28L332.15 210.29L332.63 210.29L333.11 210.29L333.60 210.28L334.08 210.28L334.57 210.28L335.06 210.27L335.55 210.27L336.04 210.27L336.53 210.26L337.03 210.26L337.52 210.25L338.02 210.25L338.52 210.25L339.02 210.25L339.52 210.25L340.02 210.25L340.53 210.25L341.03 210.25L341.54 210.26L342.05 210.26L342.56 210.26L343.07 210.27L343.59 210.27L344.10 210.27L344.62 210.28L345.14 210.28L345.66 210.29L346.18 210.29L346.71 210.29L347.23 210.29L347.76 210.29L348.29 210.29L348.82 210.29L349.35 210.29L349.88 210.29L350.42 210.29L350.95 210.29L351.49 210.29L352.03 210.29L352.58 210.29L353.12 210.28L353.67 210.28L354.21 210.28L354.76 210.28L355.31 210.28L355.86 210.28L356.42 210.28L356.97 210.28L357.53 210.28L358.09 210.28L358.65 210.28L359.22 210.28L359.78 210.28L360.35 210.29L360.91 210.29L361.48 210.29L362.06 210.29L362.63 210.29L363.21 210.29L363.78 210.29L364.36 210.30L364.95 210.30L365.53 210.30L366.11 210.30L366.70 210.30" fill="none" stroke="#f2463a" stroke-width="0.86" stroke-linejoin="round"/>
<path d="M72.08 210.30L72.08 210.18L72.10 210.11L72.13 210.04L72.15 209.96L72.18 209.91L72.20 209.87L72.23 209.86L72.25 209.89L72.28 209.94L72.30 210.01L72.33 210.08L72.35 210.15L72.38 210.19L72.40 210.19L72.43 210.16L72.45 210.09L72.48 209.99L72.50 209.87L72.53 209.74L72.55 209.64L72.58 209.56L72.61 209.53L72.63 209.55L72.66 209.62L72.68 209.72L72.71 209.84L72.73 209.97L72.76 210.07L72.78 210.13L72.81 210.15L72.83 210.10L72.86 210.00L72.88 209.86L72.91 209.70L72.93 209.54L72.96 209.41L72.99 209.32L73.01 209.28L73.04 209.32L73.06 209.41L73.09 209.55L73.11 209.71L73.14 209.87L73.16 210.01L73.19 210.09L73.22 210.11L73.24 210.05L73.27 209.93L73.29 209.76L73.32 209.56L73.34 209.37L73.37 209.21L73.40 209.10L73.42 209.07L73.45 209.12L73.47 209.23L73.50 209.40L73.53 209.60L73.55 209.80L73.58 209.95L73.60 210.05L73.63 210.07L73.66 210.00L73.68 209.86L73.71 209.66L73.73 209.43L73.76 209.21L73.79 209.02L73.81 208.91L73.84 208.87L73.86 208.93L73.89 209.07L73.92 209.27L73.94 209.50L73.97 209.72L74.00 209.91L74.02 210.02L74.05 210.04L74.07 209.96L74.10 209.80L74.13 209.57L74.15 209.31L74.18 209.06L74.21 208.85L74.23 208.72L74.26 208.68L74.29 208.75L74.31 208.91L74.34 209.14L74.37 209.40L74.39 209.65L74.42 209.86L74.45 209.98L74.47 210.00L74.50 209.92L74.53 209.74L74.55 209.48L74.58 209.19L74.61 208.91L74.63 208.68L74.66 208.54L74.69 208.50L74.71 208.58L74.74 208.76L74.77 209.02L74.79 209.31L74.82 209.59L74.85 209.81L74.87 209.95L74.90 209.97L74.93 209.88L74.96 209.67L74.98 209.39L75.01 209.08L75.04 208.77L75.06 208.52L75.09 208.36L75.12 208.33L75.15 208.41L75.17 208.61L75.20 208.90L75.23 209.21L75.25 209.52L75.28 209.77L75.31 209.92L75.34 209.94L75.36 209.84L75.39 209.61L75.42 209.30L75.45 208.96L75.47 208.62L75.50 208.35L75.53 208.18L75.56 208.15L75.58 208.24L75.61 208.46L75.64 208.77L75.67 209.12L75.69 209.46L75.72 209.72L75.75 209.88L75.78 209.91L75.80 209.79L75.83 209.55L75.86 209.21L75.89 208.83L75.92 208.47L75.94 208.17L75.97 207.99L76.00 207.96L76.03 208.06L76.06 208.31L76.08 208.64L76.11 209.02L76.14 209.39L76.17 209.68L76.20 209.85L76.22 209.87L76.25 209.75L76.28 209.48L76.31 209.11L76.34 208.70L76.36 208.31L76.39 207.99L76.42 207.80L76.45 207.76L76.48 207.88L76.51 208.14L76.53 208.51L76.56 208.92L76.59 209.32L76.62 209.63L76.65 209.81L76.68 209.84L76.70 209.70L76.73 209.41L76.76 209.01L76.79 208.57L76.82 208.15L76.85 207.80L76.87 207.60L76.90 207.56L76.93 207.69L76.96 207.98L76.99 208.38L77.02 208.82L77.05 209.24L77.08 209.58L77.10 209.78L77.13 209.80L77.16 209.65L77.19 209.34L77.22 208.91L77.25 208.43L77.28 207.98L77.31 207.62L77.34 207.40L77.36 207.36L77.39 207.51L77.42 207.82L77.45 208.24L77.48 208.72L77.51 209.18L77.54 209.54L77.57 209.74L77.60 209.77L77.63 209.60L77.66 209.27L77.69 208.81L77.71 208.30L77.74 207.82L77.77 207.44L77.80 207.21L77.83 207.17L77.86 207.33L77.89 207.66L77.92 208.12L77.95 208.63L77.98 209.11L78.01 209.49L78.04 209.71L78.07 209.74L78.10 209.56L78.13 209.20L78.16 208.71L78.19 208.18L78.22 207.67L78.25 207.26L78.28 207.02L78.31 206.99L78.34 207.16L78.36 207.52L78.39 208.00L78.42 208.54L78.45 209.05L78.48 209.45L78.51 209.68L78.54 209.70L78.57 209.51L78.60 209.13L78.63 208.62L78.66 208.05L78.69 207.51L78.72 207.09L78.75 206.84L78.79 206.81L78.82 206.99L78.85 207.37L78.88 207.88L78.91 208.45L78.94 208.99L78.97 209.41L79.00 209.65L79.03 209.67L79.06 209.46L79.09 209.06L79.12 208.52L79.15 207.92L79.18 207.36L79.21 206.91L79.24 206.66L79.27 206.62L79.30 206.82L79.33 207.22L79.36 207.76L79.39 208.36L79.42 208.92L79.46 209.37L79.49 209.62L79.52 209.63L79.55 209.42L79.58 208.99L79.61 208.42L79.64 207.79L79.67 207.20L79.70 206.74L79.73 206.47L79.76 206.44L79.80 206.65L79.83 207.07L79.86 207.64L79.89 208.27L79.92 208.86L79.95 209.33L79.98 209.59L80.01 209.60L80.04 209.37L80.08 208.92L80.11 208.33L80.14 207.68L80.17 207.06L80.20 206.58L80.23 206.31L80.26 206.28L80.30 206.51L80.33 206.96L80.36 207.55L80.39 208.21L80.42 208.82L80.45 209.30L80.49 209.56L80.52 209.58L80.55 209.34L80.58 208.87L80.61 208.26L80.64 207.59L80.68 206.95L80.71 206.46L80.74 206.18L80.77 206.16L80.80 206.40L80.83 206.86L80.87 207.48L80.90 208.15L80.93 208.78L80.96 209.27L80.99 209.54L81.03 209.55L81.06 209.30L81.09 208.82L81.12 208.18L81.16 207.48L81.19 206.83L81.22 206.32L81.25 206.03L81.28 206.01L81.32 206.25L81.35 206.73L81.38 207.37L81.41 208.07L81.45 208.72L81.48 209.23L81.51 209.51L81.54 209.52L81.58 209.25L81.61 208.75L81.64 208.08L81.67 207.35L81.71 206.67L81.74 206.14L81.77 205.84L81.81 205.82L81.84 206.08L81.87 206.58L81.90 207.25L81.94 207.98L81.97 208.66L82.00 209.19L82.04 209.48L82.07 209.48L82.10 209.20L82.14 208.67L82.17 207.97L82.20 207.21L82.23 206.50L82.27 205.95L82.30 205.64L82.33 205.63L82.37 205.90L82.40 206.43L82.43 207.13L82.47 207.89L82.50 208.60L82.53 209.15L82.57 209.45L82.60 209.45L82.63 209.15L82.67 208.59L82.70 207.87L82.74 207.07L82.77 206.33L82.80 205.76L82.84 205.45L82.87 205.43L82.90 205.73L82.94 206.28L82.97 207.01L83.01 207.80L83.04 208.54L83.07 209.11L83.11 209.41L83.14 209.41L83.17 209.10L83.21 208.52L83.24 207.76L83.28 206.93L83.31 206.17L83.35 205.58L83.38 205.25L83.41 205.24L83.45 205.55L83.48 206.13L83.52 206.89L83.55 207.71L83.59 208.48L83.62 209.07L83.65 209.38L83.69 209.37L83.72 209.04L83.76 208.44L83.79 207.65L83.83 206.80L83.86 206.00L83.90 205.40L83.93 205.06L83.97 205.06L84.00 205.38L84.03 205.99L84.07 206.78L84.10 207.63L84.14 208.42L84.17 209.03L84.21 209.35L84.24 209.34L84.28 208.99L84.31 208.36L84.35 207.55L84.38 206.66L84.42 205.84L84.45 205.22L84.49 204.88L84.52 204.88L84.56 205.22L84.60 205.85L84.63 206.67L84.67 207.55L84.70 208.37L84.74 208.99L84.77 209.32L84.81 209.30L84.84 208.94L84.88 208.29L84.91 207.44L84.95 206.53L84.99 205.68L85.02 205.04L85.06 204.69L85.09 204.70L85.13 205.05L85.16 205.71L85.20 206.55L85.24 207.47L85.27 208.31L85.31 208.95L85.34 209.29L85.38 209.27L85.42 208.89L85.45 208.21L85.49 207.33L85.52 206.39L85.56 205.52L85.60 204.86L85.63 204.51L85.67 204.51L85.70 204.89L85.74 205.56L85.78 206.44L85.81 207.39L85.85 208.26L85.89 208.91L85.92 209.26L85.96 209.23L86.00 208.84L86.03 208.13L86.07 207.23L86.11 206.25L86.14 205.35L86.18 204.67L86.22 204.31L86.25 204.33L86.29 204.72L86.33 205.42L86.36 206.33L86.40 207.31L86.44 208.20L86.47 208.88L86.51 209.23L86.55 209.19L86.59 208.78L86.62 208.05L86.66 207.11L86.70 206.11L86.73 205.18L86.77 204.49L86.81 204.12L86.85 204.14L86.88 204.55L86.92 205.27L86.96 206.21L87.00 207.22L87.03 208.14L87.07 208.84L87.11 209.19L87.15 209.15L87.18 208.73L87.22 207.97L87.26 207.00L87.30 205.96L87.34 205.01L87.37 204.29L87.41 203.91L87.45 203.94L87.49 204.36L87.53 205.12L87.56 206.09L87.60 207.13L87.64 208.08L87.68 208.80L87.72 209.16L87.75 209.11L87.79 208.67L87.83 207.88L87.87 206.88L87.91 205.80L87.95 204.82L87.98 204.08L88.02 203.70L88.06 203.73L88.10 204.18L88.14 204.96L88.18 205.97L88.22 207.04L88.25 208.02L88.29 208.75L88.33 209.12L88.37 209.07L88.41 208.60L88.45 207.79L88.49 206.75L88.53 205.64L88.56 204.63L88.60 203.88L88.64 203.49L88.68 203.53L88.72 203.99L88.76 204.80L88.80 205.84L88.84 206.95L88.88 207.96L88.92 208.71L88.96 209.09L89.00 209.03L89.04 208.54L89.07 207.70L89.11 206.62L89.15 205.48L89.19 204.44L89.23 203.67L89.27 203.27L89.31 203.32L89.35 203.80L89.39 204.64L89.43 205.72L89.47 206.86L89.51 207.90L89.55 208.67L89.59 209.05L89.63 208.99L89.67 208.48L89.71 207.61L89.75 206.50L89.79 205.32L89.83 204.25L89.87 203.46L89.91 203.05L89.95 203.11L89.99 203.61L90.03 204.48L90.07 205.59L90.11 206.77L90.16 207.84L90.20 208.63L90.24 209.02L90.28 208.94L90.32 208.42L90.36 207.51L90.40 206.37L90.44 205.16L90.48 204.06L90.52 203.25L90.56 202.84L90.60 202.90L90.64 203.42L90.69 204.33L90.73 205.47L90.77 206.68L90.81 207.78L90.85 208.59L90.89 208.98L90.93 208.90L90.97 208.35L91.02 207.42L91.06 206.24L91.10 204.99L91.14 203.87L91.18 203.04L91.22 202.62L91.26 202.69L91.31 203.24L91.35 204.17L91.39 205.35L91.43 206.60L91.47 207.72L91.51 208.55L91.56 208.95L91.60 208.86L91.64 208.29L91.68 207.32L91.72 206.11L91.77 204.83L91.81 203.68L91.85 202.83L91.89 202.41L91.94 202.49L91.98 203.05L92.02 204.01L92.06 205.23L92.11 206.51L92.15 207.66L92.19 208.51L92.23 208.91L92.28 208.81L92.32 208.22L92.36 207.23L92.40 205.98L92.45 204.66L92.49 203.48L92.53 202.61L92.57 202.19L92.62 202.28L92.66 202.86L92.70 203.86L92.75 205.11L92.79 206.42L92.83 207.60L92.88 208.47L92.92 208.88L92.96 208.77L93.01 208.16L93.05 207.13L93.09 205.85L93.14 204.50L93.18 203.29L93.22 202.40L93.27 201.97L93.31 202.07L93.35 202.68L93.40 203.70L93.44 204.99L93.49 206.34L93.53 207.55L93.57 208.43L93.62 208.84L93.66 208.72L93.71 208.09L93.75 207.03L93.79 205.71L93.84 204.33L93.88 203.09L93.93 202.19L93.97 201.76L94.02 201.86L94.06 202.49L94.10 203.55L94.15 204.87L94.19 206.25L94.24 207.49L94.28 208.39L94.33 208.80L94.37 208.68L94.42 208.02L94.46 206.93L94.51 205.58L94.55 204.16L94.60 202.89L94.64 201.97L94.69 201.53L94.73 201.65L94.78 202.30L94.82 203.39L94.87 204.75L94.91 206.17L94.96 207.43L95.00 208.35L95.05 208.77L95.09 208.63L95.14 207.95L95.19 206.83L95.23 205.44L95.28 203.99L95.32 202.69L95.37 201.75L95.41 201.31L95.46 201.43L95.51 202.11L95.55 203.23L95.60 204.62L95.64 206.08L95.69 207.37L95.74 208.30L95.78 208.73L95.83 208.58L95.87 207.88L95.92 206.73L95.97 205.30L96.01 203.81L96.06 202.48L96.11 201.53L96.15 201.08L96.20 201.22L96.25 201.92L96.29 203.07L96.34 204.50L96.39 205.99L96.43 207.31L96.48 208.26L96.53 208.69L96.57 208.54L96.62 207.81L96.67 206.62L96.72 205.16L96.76 203.63L96.81 202.28L96.86 201.30L96.91 200.86L96.95 201.00L97.00 201.73L97.05 202.91L97.10 204.38L97.14 205.91L97.19 207.26L97.24 208.22L97.29 208.66L97.33 208.49L97.38 207.74L97.43 206.52L97.48 205.02L97.53 203.45L97.57 202.07L97.62 201.08L97.67 200.63L97.72 200.79L97.77 201.54L97.82 202.76L97.86 204.26L97.91 205.82L97.96 207.20L98.01 208.19L98.06 208.62L98.11 208.44L98.16 207.66L98.20 206.41L98.25 204.87L98.30 203.28L98.35 201.87L98.40 200.86L98.45 200.41L98.50 200.58L98.55 201.35L98.60 202.60L98.64 204.14L98.69 205.74L98.74 207.15L98.79 208.15L98.84 208.58L98.89 208.39L98.94 207.59L98.99 206.31L99.04 204.73L99.09 203.09L99.14 201.66L99.19 200.63L99.24 200.17L99.29 200.36L99.34 201.15L99.39 202.44L99.44 204.02L99.49 205.65L99.54 207.09L99.59 208.10L99.64 208.54L99.69 208.34L99.74 207.51L99.79 206.19L99.84 204.57L99.89 202.90L99.94 201.43L99.99 200.39L100.05 199.92L100.10 200.12L100.15 200.94L100.20 202.26L100.25 203.88L100.30 205.55L100.35 207.02L100.40 208.06L100.45 208.50L100.50 208.28L100.56 207.43L100.61 206.07L100.66 204.40L100.71 202.69L100.76 201.19L100.81 200.12L100.86 199.65L100.92 199.86L100.97 200.71L101.02 202.07L101.07 203.74L101.12 205.45L101.18 206.95L101.23 208.01L101.28 208.46L101.33 208.22L101.38 207.34L101.44 205.94L101.49 204.23L101.54 202.47L101.59 200.93L101.65 199.85L101.70 199.38L101.75 199.60L101.80 200.48L101.86 201.88L101.91 203.59L101.96 205.35L102.02 206.89L102.07 207.96L102.12 208.41L102.17 208.16L102.23 207.25L102.28 205.81L102.33 204.06L102.39 202.27L102.44 200.70L102.49 199.60L102.55 199.13L102.60 199.37L102.66 200.27L102.71 201.71L102.76 203.47L102.82 205.26L102.87 206.83L102.92 207.92L102.98 208.37L103.03 208.11L103.09 207.17L103.14 205.69L103.19 203.91L103.25 202.07L103.30 200.48L103.36 199.36L103.41 198.89L103.47 199.14L103.52 200.08L103.58 201.56L103.63 203.35L103.69 205.18L103.74 206.77L103.80 207.88L103.85 208.33L103.91 208.06L103.96 207.09L104.02 205.58L104.07 203.75L104.13 201.88L104.18 200.26L104.24 199.13L104.29 198.66L104.35 198.93L104.40 199.89L104.46 201.40L104.52 203.23L104.57 205.10L104.63 206.72L104.68 207.84L104.74 208.30L104.79 208.00L104.85 207.01L104.91 205.46L104.96 203.60L105.02 201.69L105.08 200.04L105.13 198.89L105.19 198.42L105.25 198.70L105.30 199.69L105.36 201.24L105.42 203.11L105.47 205.02L105.53 206.67L105.59 207.80L105.64 208.26L105.70 207.95L105.76 206.93L105.82 205.34L105.87 203.43L105.93 201.49L105.99 199.81L106.04 198.65L106.10 198.18L106.16 198.47L106.22 199.49L106.28 201.08L106.33 202.99L106.39 204.93L106.45 206.61L106.51 207.76L106.57 208.21L106.62 207.89L106.68 206.84L106.74 205.22L106.80 203.27L106.86 201.28L106.92 199.57L106.97 198.39L107.03 197.92L107.09 198.24L107.15 199.28L107.21 200.91L107.27 202.86L107.33 204.84L107.39 206.55L107.45 207.72L107.50 208.17L107.56 207.83L107.62 206.75L107.68 205.09L107.74 203.09L107.80 201.07L107.86 199.33L107.92 198.14L107.98 197.67L108.04 198.00L108.10 199.07L108.16 200.74L108.22 202.73L108.28 204.75L108.34 206.49L108.40 207.68L108.46 208.13L108.52 207.77L108.58 206.66L108.64 204.96L108.70 202.92L108.76 200.86L108.83 199.09L108.89 197.87L108.95 197.40L109.01 197.75L109.07 198.85L109.13 200.56L109.19 202.60L109.25 204.66L109.31 206.43L109.38 207.63L109.44 208.08L109.50 207.71L109.56 206.56L109.62 204.81L109.68 202.73L109.75 200.62L109.81 198.81L109.87 197.57L109.93 197.10L109.99 197.46L110.06 198.61L110.12 200.36L110.18 202.44L110.24 204.55L110.31 206.36L110.37 207.58L110.43 208.03L110.49 207.64L110.56 206.45L110.62 204.66L110.68 202.52L110.75 200.37L110.81 198.53L110.87 197.28L110.94 196.81L111.00 197.19L111.06 198.37L111.13 200.17L111.19 202.30L111.25 204.46L111.32 206.29L111.38 207.53L111.45 207.98L111.51 207.57L111.57 206.36L111.64 204.53L111.70 202.35L111.77 200.16L111.83 198.30L111.90 197.03L111.96 196.57L112.02 196.97L112.09 198.18L112.15 200.02L112.22 202.20L112.28 204.39L112.35 206.25L112.41 207.50L112.48 207.95L112.54 207.52L112.61 206.28L112.68 204.41L112.74 202.20L112.81 199.98L112.87 198.09L112.94 196.82L113.00 196.36L113.07 196.78L113.14 198.02L113.20 199.89L113.27 202.10L113.34 204.32L113.40 206.21L113.47 207.47L113.53 207.91L113.60 207.47L113.67 206.20L113.73 204.29L113.80 202.05L113.87 199.80L113.94 197.89L114.00 196.61L114.07 196.15L114.14 196.59L114.20 197.86L114.27 199.77L114.34 202.01L114.41 204.26L114.47 206.17L114.54 207.44L114.61 207.88L114.68 207.41L114.75 206.12L114.81 204.18L114.88 201.90L114.95 199.62L115.02 197.69L115.09 196.40L115.16 195.95L115.23 196.41L115.29 197.70L115.36 199.64L115.43 201.92L115.50 204.20L115.57 206.13L115.64 207.41L115.71 207.84L115.78 207.36L115.85 206.03L115.92 204.06L115.99 201.75L116.06 199.43L116.13 197.48L116.20 196.18L116.27 195.73L116.34 196.21L116.41 197.53L116.48 199.50L116.55 201.82L116.62 204.14L116.69 206.09L116.76 207.38L116.83 207.80L116.90 207.30L116.97 205.95L117.04 203.94L117.11 201.59L117.18 199.24L117.26 197.26L117.33 195.95L117.40 195.51L117.47 196.00L117.54 197.36L117.61 199.37L117.69 201.72L117.76 204.07L117.83 206.04L117.90 207.34L117.97 207.77L118.05 207.25L118.12 205.86L118.19 203.82L118.26 201.42L118.34 199.04L118.41 197.04L118.48 195.72L118.55 195.29L118.63 195.80L118.70 197.18L118.77 199.23L118.85 201.63L118.92 204.00L118.99 206.00L119.07 207.31L119.14 207.73L119.22 207.19L119.29 205.77L119.36 203.69L119.44 201.26L119.51 198.85L119.59 196.83L119.66 195.50L119.74 195.07L119.81 195.60L119.89 197.01L119.96 199.10L120.03 201.53L120.11 203.94L120.18 205.96L120.26 207.28L120.34 207.69L120.41 207.13L120.49 205.68L120.56 203.56L120.64 201.10L120.71 198.65L120.79 196.61L120.87 195.27L120.94 194.84L121.02 195.40L121.09 196.84L121.17 198.96L121.25 201.43L121.32 203.88L121.40 205.92L121.48 207.24L121.55 207.65L121.63 207.07L121.71 205.59L121.79 203.44L121.86 200.93L121.94 198.46L122.02 196.39L122.10 195.04L122.17 194.62L122.25 195.20L122.33 196.68L122.41 198.83L122.49 201.34L122.56 203.82L122.64 205.88L122.72 207.21L122.80 207.61L122.88 207.01L122.96 205.51L123.04 203.32L123.12 200.78L123.19 198.27L123.27 196.19L123.35 194.84L123.43 194.43L123.51 195.02L123.59 196.53L123.67 198.72L123.75 201.26L123.83 203.77L123.91 205.85L123.99 207.19L124.07 207.58L124.15 206.96L124.23 205.43L124.31 203.21L124.40 200.64L124.48 198.11L124.56 196.01L124.64 194.66L124.72 194.26L124.80 194.87L124.88 196.41L124.96 198.63L125.05 201.20L125.13 203.73L125.21 205.82L125.29 207.17L125.37 207.55L125.46 206.91L125.54 205.35L125.62 203.10L125.70 200.51L125.79 197.96L125.87 195.85L125.95 194.49L126.04 194.10L126.12 194.74L126.20 196.30L126.29 198.55L126.37 201.15L126.45 203.70L126.54 205.80L126.62 207.15L126.70 207.52L126.79 206.87L126.87 205.28L126.96 203.01L127.04 200.39L127.13 197.82L127.21 195.69L127.30 194.34L127.38 193.96L127.47 194.61L127.55 196.20L127.64 198.48L127.72 201.10L127.81 203.67L127.89 205.79L127.98 207.13L128.07 207.50L128.15 206.82L128.24 205.22L128.32 202.91L128.41 200.27L128.50 197.68L128.58 195.55L128.67 194.19L128.76 193.82L128.84 194.49L128.93 196.10L129.02 198.41L129.11 201.06L129.19 203.64L129.28 205.77L129.37 207.12L129.46 207.47L129.55 206.78L129.63 205.15L129.72 202.82L129.81 200.15L129.90 197.55L129.99 195.40L130.08 194.05L130.17 193.69L130.25 194.38L130.34 196.01L130.43 198.34L130.52 201.02L130.61 203.62L130.70 205.76L130.79 207.10L130.88 207.45L130.97 206.74L131.06 205.08L131.15 202.73L131.24 200.04L131.33 197.42L131.42 195.27L131.52 193.92L131.61 193.57L131.70 194.28L131.79 195.94L131.88 198.29L131.97 200.98L132.06 203.60L132.16 205.75L132.25 207.09L132.34 207.42L132.43 206.70L132.52 205.02L132.62 202.65L132.71 199.94L132.80 197.30L132.90 195.15L132.99 193.80L133.08 193.47L133.18 194.19L133.27 195.87L133.36 198.25L133.46 200.96L133.55 203.59L133.64 205.74L133.74 207.08L133.83 207.41L133.93 206.66L134.02 204.97L134.12 202.57L134.21 199.85L134.31 197.21L134.40 195.05L134.50 193.71L134.59 193.38L134.69 194.13L134.78 195.83L134.88 198.23L134.98 200.95L135.07 203.59L135.17 205.75L135.27 207.08L135.36 207.39L135.46 206.63L135.56 204.92L135.65 202.51L135.75 199.77L135.85 197.12L135.94 194.97L136.04 193.63L136.14 193.32L136.24 194.08L136.34 195.80L136.43 198.22L136.53 200.95L136.63 203.60L136.73 205.75L136.83 207.08L136.93 207.38L137.03 206.60L137.13 204.87L137.23 202.45L137.33 199.70L137.43 197.05L137.53 194.90L137.63 193.57L137.73 193.28L137.83 194.06L137.93 195.79L138.03 198.22L138.13 200.96L138.23 203.61L138.33 205.76L138.43 207.08L138.53 207.37L138.63 206.58L138.74 204.84L138.84 202.40L138.94 199.65L139.04 196.99L139.15 194.85L139.25 193.53L139.35 193.25L139.45 194.04L139.56 195.79L139.66 198.23L139.76 200.98L139.87 203.63L139.97 205.78L140.07 207.09L140.18 207.36L140.28 206.56L140.39 204.80L140.49 202.36L140.60 199.60L140.70 196.95L140.81 194.81L140.91 193.50L141.02 193.24L141.12 194.05L141.23 195.81L141.33 198.25L141.44 201.01L141.55 203.66L141.65 205.80L141.76 207.10L141.87 207.36L141.97 206.54L142.08 204.77L142.19 202.32L142.29 199.57L142.40 196.92L142.51 194.79L142.62 193.50L142.73 193.24L142.83 194.07L142.94 195.84L143.05 198.29L143.16 201.05L143.27 203.70L143.38 205.82L143.49 207.11L143.60 207.35L143.71 206.53L143.82 204.75L143.93 202.30L144.04 199.54L144.15 196.90L144.26 194.78L144.37 193.51L144.48 193.27L144.59 194.11L144.70 195.89L144.81 198.34L144.92 201.10L145.03 203.74L145.15 205.85L145.26 207.12L145.37 207.36L145.48 206.52L145.60 204.74L145.71 202.28L145.82 199.53L145.94 196.90L146.05 194.80L146.16 193.54L146.28 193.32L146.39 194.16L146.50 195.95L146.62 198.41L146.73 201.16L146.85 203.79L146.96 205.89L147.08 207.14L147.19 207.36L147.31 206.51L147.42 204.73L147.54 202.27L147.66 199.53L147.77 196.92L147.89 194.83L148.01 193.59L148.12 193.38L148.24 194.24L148.36 196.03L148.47 198.49L148.59 201.23L148.71 203.84L148.83 205.93L148.95 207.16L149.06 207.37L149.18 206.51L149.30 204.73L149.42 202.28L149.54 199.55L149.66 196.95L149.78 194.89L149.90 193.67L150.02 193.47L150.14 194.34L150.26 196.14L150.38 198.59L150.50 201.32L150.62 203.91L150.74 205.97L150.86 207.19L150.99 207.38L151.11 206.52L151.23 204.73L151.35 202.30L151.47 199.59L151.60 197.01L151.72 194.97L151.84 193.77L151.97 193.60L152.09 194.47L152.21 196.27L152.34 198.71L152.46 201.42L152.59 203.99L152.71 206.03L152.83 207.23L152.96 207.40L153.08 206.53L153.21 204.75L153.34 202.33L153.46 199.64L153.59 197.10L153.71 195.08L153.84 193.90L153.97 193.75L154.09 194.63L154.22 196.42L154.35 198.84L154.48 201.53L154.60 204.07L154.73 206.09L154.86 207.26L154.99 207.43L155.12 206.55L155.25 204.78L155.38 202.38L155.50 199.71L155.63 197.20L155.76 195.21L155.89 194.06L156.02 193.92L156.16 194.81L156.29 196.59L156.42 199.00L156.55 201.66L156.68 204.17L156.81 206.15L156.94 207.30L157.08 207.45L157.21 206.58L157.34 204.81L157.47 202.43L157.61 199.80L157.74 197.32L157.87 195.37L158.01 194.24L158.14 194.11L158.27 195.01L158.41 196.78L158.54 199.16L158.68 201.79L158.81 204.27L158.95 206.22L159.09 207.35L159.22 207.48L159.36 206.61L159.49 204.86L159.63 202.50L159.77 199.90L159.90 197.45L160.04 195.54L160.18 194.44L160.32 194.33L160.46 195.22L160.59 196.98L160.73 199.34L160.87 201.94L161.01 204.38L161.15 206.30L161.29 207.40L161.43 207.52L161.57 206.64L161.71 204.90L161.85 202.58L161.99 200.02L162.13 197.61L162.27 195.73L162.42 194.66L162.56 194.57L162.70 195.46L162.84 197.20L162.99 199.53L163.13 202.09L163.27 204.50L163.42 206.38L163.56 207.45L163.70 207.55L163.85 206.68L163.99 204.97L164.14 202.67L164.28 200.15L164.43 197.79L164.57 195.95L164.72 194.91L164.87 194.84L165.01 195.73L165.16 197.45L165.31 199.75L165.45 202.27L165.60 204.63L165.75 206.46L165.90 207.51L166.04 207.60L166.19 206.73L166.34 205.04L166.49 202.78L166.64 200.31L166.79 198.00L166.94 196.21L167.09 195.20L167.24 195.14L167.39 196.03L167.54 197.73L167.70 199.99L167.85 202.46L168.00 204.77L168.15 206.56L168.30 207.57L168.46 207.65L168.61 206.79L168.76 205.12L168.92 202.91L169.07 200.49L169.23 198.24L169.38 196.50L169.54 195.53L169.69 195.48L169.85 196.36L170.00 198.04L170.16 200.25L170.32 202.67L170.47 204.92L170.63 206.66L170.79 207.64L170.94 207.71L171.10 206.86L171.26 205.22L171.42 203.06L171.58 200.70L171.74 198.50L171.90 196.81L172.06 195.88L172.22 195.84L172.38 196.72L172.54 198.36L172.70 200.53L172.86 202.89L173.02 205.08L173.18 206.77L173.35 207.71L173.51 207.77L173.67 206.93L173.84 205.33L174.00 203.22L174.16 200.92L174.33 198.78L174.49 197.15L174.66 196.25L174.82 196.23L174.99 197.09L175.15 198.70L175.32 200.82L175.49 203.11L175.65 205.24L175.82 206.88L175.99 207.79L176.16 207.83L176.32 207.01L176.49 205.44L176.66 203.39L176.83 201.15L177.00 199.09L177.17 197.50L177.34 196.64L177.51 196.64L177.68 197.49L177.85 199.06L178.03 201.12L178.20 203.35L178.37 205.41L178.54 207.00L178.71 207.87L178.89 207.90L179.06 207.09L179.24 205.57L179.41 203.57L179.59 201.41L179.76 199.41L179.94 197.88L180.11 197.06L180.29 197.07L180.46 197.91L180.64 199.44L180.82 201.44L181.00 203.60L181.17 205.59L181.35 207.12L181.53 207.96L181.71 207.97L181.89 207.18L182.07 205.70L182.25 203.77L182.43 201.68L182.61 199.75L182.79 198.29L182.97 197.50L183.16 197.52L183.34 198.34L183.52 199.83L183.70 201.77L183.89 203.86L184.07 205.78L184.26 207.25L184.44 208.04L184.63 208.05L184.81 207.28L185.00 205.84L185.18 203.97L185.37 201.96L185.56 200.11L185.75 198.70L185.93 197.96L186.12 197.99L186.31 198.79L186.50 200.24L186.69 202.11L186.88 204.12L187.07 205.97L187.26 207.37L187.45 208.13L187.64 208.13L187.83 207.38L188.03 205.99L188.22 204.19L188.41 202.25L188.61 200.48L188.80 199.14L188.99 198.44L189.19 198.48L189.38 199.26L189.58 200.65L189.77 202.46L189.97 204.39L190.17 206.16L190.37 207.51L190.56 208.22L190.76 208.21L190.96 207.48L191.16 206.15L191.36 204.42L191.56 202.57L191.76 200.87L191.96 199.60L192.16 198.94L192.36 198.99L192.56 199.75L192.77 201.09L192.97 202.82L193.17 204.67L193.38 206.36L193.58 207.64L193.79 208.32L193.99 208.30L194.20 207.60L194.40 206.32L194.61 204.67L194.82 202.91L195.02 201.30L195.23 200.09L195.44 199.47L195.65 199.54L195.86 200.27L196.07 201.56L196.28 203.21L196.49 204.97L196.70 206.57L196.91 207.79L197.12 208.42L197.34 208.40L197.55 207.72L197.76 206.50L197.98 204.94L198.19 203.26L198.41 201.74L198.62 200.61L198.84 200.03L199.05 200.10L199.27 200.81L199.49 202.03L199.71 203.60L199.92 205.27L200.14 206.79L200.36 207.93L200.58 208.53L200.80 208.50L201.02 207.85L201.24 206.70L201.47 205.21L201.69 203.63L201.91 202.20L202.14 201.14L202.36 200.60L202.58 200.68L202.81 201.35L203.03 202.52L203.26 204.00L203.49 205.58L203.71 207.01L203.94 208.08L204.17 208.64L204.40 208.60L204.63 207.98L204.86 206.89L205.09 205.49L205.32 204.01L205.55 202.66L205.78 201.67L206.01 201.18L206.25 201.26L206.48 201.90L206.71 203.00L206.95 204.40L207.18 205.88L207.42 207.22L207.66 208.22L207.89 208.74L208.13 208.70L208.37 208.12L208.61 207.09L208.84 205.77L209.08 204.38L209.32 203.13L209.57 202.20L209.81 201.75L210.05 201.84L210.29 202.44L210.53 203.48L210.78 204.80L211.02 206.18L211.27 207.44L211.51 208.37L211.76 208.84L212.00 208.80L212.25 208.25L212.50 207.29L212.75 206.06L213.00 204.76L213.25 203.60L213.50 202.74L213.75 202.33L214.00 202.41L214.25 202.99L214.50 203.96L214.76 205.19L215.01 206.48L215.27 207.65L215.52 208.51L215.78 208.95L216.03 208.90L216.29 208.39L216.55 207.49L216.81 206.35L217.06 205.14L217.32 204.07L217.58 203.28L217.85 202.90L218.11 202.99L218.37 203.53L218.63 204.44L218.89 205.58L219.16 206.78L219.42 207.86L219.69 208.65L219.96 209.05L220.22 209.00L220.49 208.52L220.76 207.69L221.03 206.63L221.30 205.52L221.57 204.53L221.84 203.80L222.11 203.46L222.38 203.55L222.65 204.06L222.93 204.90L223.20 205.96L223.48 207.07L223.75 208.06L224.03 208.79L224.31 209.15L224.58 209.10L224.86 208.65L225.14 207.88L225.42 206.91L225.70 205.89L225.98 204.98L226.26 204.32L226.55 204.02L226.83 204.11L227.12 204.58L227.40 205.36L227.69 206.33L227.97 207.35L228.26 208.26L228.55 208.92L228.84 209.25L229.13 209.20L229.42 208.79L229.71 208.08L230.00 207.20L230.29 206.27L230.59 205.45L230.88 204.86L231.17 204.59L231.47 204.68L231.77 205.12L232.06 205.83L232.36 206.72L232.66 207.64L232.96 208.46L233.26 209.06L233.56 209.35L233.86 209.31L234.17 208.93L234.47 208.29L234.77 207.50L235.08 206.67L235.39 205.93L235.69 205.41L236.00 205.17L236.31 205.26L236.62 205.66L236.93 206.31L237.24 207.10L237.55 207.93L237.86 208.66L238.18 209.20L238.49 209.46L238.81 209.41L239.12 209.07L239.44 208.50L239.76 207.79L240.08 207.06L240.40 206.41L240.72 205.95L241.04 205.75L241.36 205.83L241.68 206.19L242.01 206.77L242.33 207.48L242.66 208.21L242.99 208.86L243.31 209.33L243.64 209.56L243.97 209.51L244.30 209.22L244.63 208.71L244.96 208.09L245.30 207.44L245.63 206.88L245.97 206.48L246.30 206.31L246.64 206.40L246.98 206.72L247.32 207.23L247.66 207.85L248.00 208.49L248.34 209.06L248.68 209.46L249.03 209.66L249.37 209.62L249.72 209.36L250.06 208.92L250.41 208.39L250.76 207.83L251.11 207.35L251.46 207.02L251.81 206.88L252.16 206.96L252.52 207.24L252.87 207.69L253.23 208.22L253.58 208.77L253.94 209.25L254.30 209.59L254.66 209.76L255.02 209.72L255.38 209.50L255.75 209.13L256.11 208.68L256.48 208.22L256.84 207.82L257.21 207.55L257.58 207.44L257.95 207.51L258.32 207.75L258.69 208.13L259.06 208.58L259.44 209.03L259.81 209.43L260.19 209.72L260.57 209.85L260.94 209.82L261.32 209.64L261.70 209.34L262.09 208.97L262.47 208.59L262.85 208.27L263.24 208.05L263.62 207.96L264.01 208.03L264.40 208.23L264.79 208.54L265.18 208.91L265.57 209.28L265.97 209.60L266.36 209.83L266.76 209.94L267.15 209.91L267.55 209.77L267.95 209.52L268.35 209.23L268.76 208.93L269.16 208.67L269.56 208.50L269.97 208.44L270.38 208.49L270.78 208.66L271.19 208.90L271.60 209.20L272.02 209.49L272.43 209.75L272.84 209.93L273.26 210.02L273.68 210.00L274.10 209.88L274.52 209.69L274.94 209.46L275.36 209.23L275.78 209.04L276.21 208.91L276.64 208.87L277.06 208.92L277.49 209.05L277.92 209.24L278.36 209.47L278.79 209.69L279.22 209.89L279.66 210.03L280.10 210.09L280.54 210.07L280.98 209.99L281.42 209.85L281.86 209.68L282.31 209.52L282.75 209.38L283.20 209.29L283.65 209.26L284.10 209.30L284.55 209.40L285.01 209.54L285.46 209.71L285.92 209.87L286.37 210.01L286.83 210.11L287.30 210.15L287.76 210.14L288.22 210.08L288.69 209.98L289.15 209.87L289.62 209.75L290.09 209.66L290.56 209.60L291.04 209.59L291.51 209.62L291.99 209.69L292.47 209.79L292.95 209.90L293.43 210.01L293.91 210.11L294.40 210.17L294.88 210.20L295.37 210.19L295.86 210.15L296.35 210.09L296.84 210.02L297.34 209.94L297.83 209.89L298.33 209.85L298.83 209.85L299.33 209.87L299.84 209.92L300.34 209.98L300.85 210.06L301.36 210.13L301.87 210.18L302.38 210.22L302.89 210.24L303.41 210.24L303.93 210.22L304.44 210.18L304.96 210.14L305.49 210.10L306.01 210.08L306.54 210.06L307.07 210.06L307.60 210.08L308.13 210.10L308.66 210.14L309.20 210.18L309.74 210.21L310.28 210.24L310.82 210.26L311.36 210.27L311.91 210.27L312.45 210.26L313.00 210.24L313.55 210.23L314.11 210.21L314.66 210.20L315.22 210.19L315.78 210.19L316.34 210.20L316.90 210.21L317.47 210.23L318.04 210.24L318.61 210.26L319.18 210.27L319.75 210.28L320.33 210.29L320.91 210.29L321.49 210.28L322.07 210.27L322.65 210.26L323.24 210.25L323.83 210.25L324.42 210.24L325.01 210.24L325.61 210.25L326.21 210.25L326.51 210.26L326.81 210.26L327.11 210.27L327.41 210.27L327.71 210.27L328.01 210.28L328.32 210.28L328.62 210.29L328.93 210.29L329.23 210.29L329.54 210.29L329.84 210.29L330.15 210.29L330.46 210.29L330.76 210.29L331.07 210.29L331.38 210.29L331.69 210.29L332.00 210.28L332.31 210.28L332.62 210.28L332.93 210.28L333.25 210.27L333.56 210.27L333.87 210.27L334.19 210.27L334.50 210.27L334.82 210.27L335.13 210.27L335.45 210.27L335.77 210.27L336.09 210.28L336.40 210.28L336.72 210.28L337.04 210.28L337.36 210.28L337.69 210.29L338.01 210.29L338.33 210.29L338.65 210.29L338.98 210.29L339.30 210.30L339.62 210.30L339.95 210.30L340.28 210.30L340.60 210.30L340.93 210.30L341.26 210.29L341.59 210.29L341.92 210.29L342.25 210.29L342.58 210.29L342.91 210.29L343.24 210.29L343.57 210.29L343.91 210.29L344.24 210.28L344.57 210.28L344.91 210.28L345.25 210.28L345.58 210.28L345.92 210.29L346.26 210.29L346.60 210.29L346.94 210.29L347.28 210.29L347.62 210.29L347.96 210.29L348.30 210.29L348.64 210.29L348.99 210.30L349.33 210.30L349.67 210.30L350.02 210.30L350.37 210.30L350.71 210.30L351.06 210.30L351.41 210.30L351.76 210.30L352.11 210.30L352.46 210.30L352.81 210.30L353.16 210.29L353.51 210.29L353.87 210.29L354.22 210.29L354.57 210.29L354.93 210.29L355.29 210.29L355.64 210.29L356.00 210.29L356.36 210.29L356.72 210.29L357.08 210.29L357.44 210.29L357.80 210.29L358.16 210.29L358.52 210.29L358.89 210.29L359.25 210.29L359.62 210.30L359.98 210.30L360.35 210.30L360.72 210.30L361.09 210.30L361.45 210.30L361.82 210.30L362.19 210.30L362.57 210.30L362.94 210.30L363.31 210.30L363.68 210.30L364.06 210.30L364.43 210.30L364.81 210.30L365.19 210.30L365.56 210.30L365.94 210.30L366.32 210.30L366.70 210.29" fill="none" stroke="#64da16" stroke-width="0.88" stroke-linejoin="round"/>

<path d="M43.25 210.5V3.5" stroke="#222" stroke-width="0.85" fill="none"/>
<path d="M42.8 3.9H367.5" stroke="#222" stroke-width="0.8" fill="none"/>
<path d="M367.05 3.5V210.5" stroke="#2a2a2a" stroke-width="1.0" fill="none"/>
<path d="M42.800000000000004 210.55H367.0" stroke="#000" stroke-opacity="0.6" stroke-width="1.0" fill="none"/>
<defs><filter id="b" x="-5%" y="-5%" width="110%" height="110%"><feGaussianBlur stdDeviation="0.3"/></filter></defs>
<g filter="url(#b)">
<g font-size="11.5"><text transform="translate(44.50 226.00) scale(0.93 1.07)" text-anchor="middle">1</text><text transform="translate(80.46 226.00) scale(0.93 1.07)" text-anchor="middle">2</text><text transform="translate(116.41 226.00) scale(0.93 1.07)" text-anchor="middle">3</text><text transform="translate(152.37 226.00) scale(0.93 1.07)" text-anchor="middle">4</text><text transform="translate(188.32 226.00) scale(0.93 1.07)" text-anchor="middle">5</text><text transform="translate(224.28 226.00) scale(0.93 1.07)" text-anchor="middle">6</text><text transform="translate(260.23 226.00) scale(0.93 1.07)" text-anchor="middle">7</text><text transform="translate(296.19 226.00) scale(0.93 1.07)" text-anchor="middle">8</text><text transform="translate(332.14 226.00) scale(0.93 1.07)" text-anchor="middle">9</text><text transform="translate(368.10 226.00) scale(0.93 1.07)" text-anchor="middle">10</text><text transform="translate(36.30 214.20) scale(0.93 1.07)" text-anchor="end">0</text><text transform="translate(36.30 193.54) scale(0.93 1.07)" text-anchor="end">2</text><text transform="translate(36.30 172.88) scale(0.93 1.07)" text-anchor="end">4</text><text transform="translate(36.30 152.22) scale(0.93 1.07)" text-anchor="end">6</text><text transform="translate(36.30 131.56) scale(0.93 1.07)" text-anchor="end">8</text><text transform="translate(36.30 110.90) scale(0.93 1.07)" text-anchor="end">10</text><text transform="translate(36.30 90.24) scale(0.93 1.07)" text-anchor="end">12</text><text transform="translate(36.30 69.58) scale(0.93 1.07)" text-anchor="end">14</text><text transform="translate(36.30 48.92) scale(0.93 1.07)" text-anchor="end">16</text><text transform="translate(36.30 28.26) scale(0.93 1.07)" text-anchor="end">18</text><text transform="translate(36.30 7.60) scale(0.93 1.07)" text-anchor="end">20</text></g>
<path d="M318 23.30H349.3" stroke="#4585d6" stroke-width="0.9" fill="none"/><text transform="translate(289.50 27.20) scale(1 1.08)" font-size="11.4">GR<tspan dy="2.6" font-size="8">1</tspan></text><path d="M318 42.30H349.3" stroke="#f4746a" stroke-width="0.9" fill="none"/><text transform="translate(289.50 46.20) scale(1 1.08)" font-size="11.4">GR<tspan dy="2.6" font-size="8">2</tspan></text><path d="M318 61.40H349.3" stroke="#86e04e" stroke-width="0.9" fill="none"/><text transform="translate(289.50 65.30) scale(1 1.08)" font-size="11.4">GR<tspan dy="2.6" font-size="8">3</tspan></text>
<text transform="translate(11.5 124) rotate(-90) scale(1 1.05)" font-size="11.55">Signal 10<tspan dy="-4" font-size="7.5">−3</tspan><tspan dy="4"> [TNU]/1 keV</tspan></text>
<text transform="translate(316.8 244.7) scale(1 1.12)" font-size="11.4">E</text>
<text x="325.1" y="248.3" font-size="10.4" style="font-weight:normal;stroke-width:0.15px">ν</text>
<text transform="translate(328.9 250.6) scale(1 1.1)" font-size="8">e</text>
<text transform="translate(335.6 244.7) scale(1 1.12)" font-size="11.4" textLength="30.4" lengthAdjust="spacingAndGlyphs">[MeV]</text>
<path d="M324.2 242.3H329.3" stroke="#000" stroke-width="0.7"/>
</g>
</svg>
</body></html>
